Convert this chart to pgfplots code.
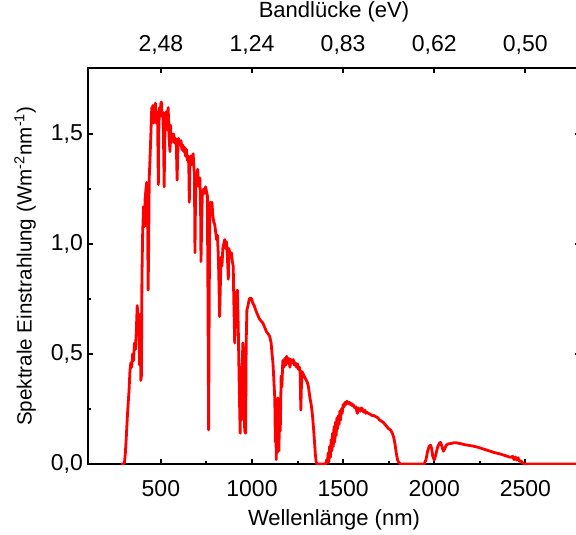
\documentclass[border=0pt]{standalone}
\usepackage{fontspec}
\setmainfont{Liberation Sans}
\usepackage{pgfplots}
\pgfplotsset{compat=1.18}
\begin{document}
\begin{tikzpicture}[font=\fontsize{11}{13}\selectfont]
\useasboundingbox (0,0) rectangle (288pt,267pt);
\pgfplotsset{
  common/.style={
    at={(44pt,35pt)}, anchor=south west, scale only axis,
    width=246pt, height=198pt,
    xmin=100, xmax=2800, ymin=0, ymax=1.8,
    tick align=inside, major tick length=2.5pt, minor tick length=1.5pt,
    axis line style={line width=1pt},
    every tick/.style={black, line width=1pt},
    every tick label/.append style={font=\fontsize{11.5}{13}\selectfont},
    /pgf/number format/assume math mode=true,
  }
}
\begin{axis}[common,
  xtick={500,1000,1500,2000,2500},
  xticklabels={500,1000,1500,2000,2500},
  minor x tick num=1,
  xtick pos=bottom,
  ytick={0,0.5,1,1.5},
  yticklabels={0{,}0,0{,}5,1{,}0,1{,}5},
  minor y tick num=1,
  ytick pos=both,
  xticklabel style={yshift=-4.5pt},
  yticklabel style={xshift=1pt},
  xlabel={Wellenlänge (nm)},
  ylabel={Spektrale Einstrahlung (Wm\textsuperscript{-2}nm\textsuperscript{-1})},
  xlabel style={at={(axis description cs:0.5,0)}, anchor=center, yshift=-28pt},
  ylabel style={at={(axis description cs:-0.128,0.5)}, anchor=center, font=\fontsize{10.3}{12}\selectfont},
]
\addplot[color=red, line width=1.4pt, line join=round] coordinates {
(280,0) (295,0) (300,0.005) (305,0.05) (310,0.12) (315,0.2) (320,0.27) (325,0.33)
(330,0.42) (335,0.46) (340,0.44) (345,0.50) (350,0.47) (355,0.55) (360,0.52)
(365,0.60) (370,0.72) (375,0.66) (380,0.62) (383,0.45) (386,0.68) (390,0.38)
(393,0.40) (396,0.85) (400,1.05) (405,1.17) (410,1.08) (413,1.20) (418,1.25)
(422,1.28) (426,1.22) (430,0.79) (433,1.0) (436,1.30) (440,1.38) (445,1.50)
(450,1.62) (453,1.58) (456,1.63) (460,1.55) (463,1.62) (466,1.58) (470,1.64)
(474,1.55) (478,1.60) (482,1.56) (486,1.27) (488,1.50) (492,1.62) (496,1.58)
(500,1.64) (503,1.645) (506,1.58) (510,1.60) (514,1.50) (518,1.26) (520,1.40)
(523,1.55) (527,1.60) (531,1.52) (535,1.58) (540,1.62) (545,1.48) (550,1.42)
(553,1.54) (557,1.46) (560,1.50) (565,1.47) (570,1.50) (575,1.46) (580,1.48)
(585,1.44) (589,1.29) (592,1.40) (596,1.48) (600,1.46) (605,1.45) (610,1.47)
(615,1.43) (620,1.45) (625,1.42) (630,1.44) (635,1.40) (640,1.43) (645,1.38)
(650,1.40) (653,1.36) (656,1.19) (659,1.38) (664,1.40) (668,1.36) (672,1.38)
(677,1.41) (681,1.35) (684,1.32) (687,0.96) (690,1.20) (694,1.32) (698,1.30)
(702,1.34) (706,1.28) (710,1.26) (714,1.30) (718,1.15) (720,0.92) (723,1.05)
(727,1.22) (731,1.24) (735,1.25) (740,1.23) (745,1.26) (750,1.24) (755,1.22)
(758,0.8) (762,0.155) (765,0.7) (768,1.15) (772,1.19) (776,1.18) (780,1.19)
(785,1.13) (790,1.10) (795,1.09) (800,1.06) (805,1.02) (810,1.04) (815,0.95)
(818,0.85) (822,0.67) (826,0.80) (830,0.94) (835,0.90) (840,0.98) (845,1.00)
(850,1.02) (855,0.98) (860,1.01) (865,0.94) (870,0.84) (873,0.98) (878,0.96)
(882,0.94) (887,0.96) (892,0.92) (897,0.90) (900,0.75) (905,0.55) (910,0.70)
(915,0.78) (920,0.79) (925,0.60) (930,0.35) (935,0.14) (938,0.30) (942,0.20)
(946,0.45) (950,0.55) (955,0.35) (960,0.15) (965,0.14) (968,0.55) (972,0.70)
(978,0.72) (985,0.75) (992,0.755) (998,0.75) (1005,0.73) (1012,0.72) (1020,0.70)
(1030,0.68) (1040,0.66) (1050,0.65) (1060,0.64) (1070,0.62) (1080,0.60)
(1090,0.59) (1097,0.58) (1105,0.55) (1110,0.50) (1115,0.46) (1120,0.38)
(1125,0.30) (1128,0.10) (1131,0.25) (1133,0.02) (1136,0.20) (1139,0.05)
(1142,0.30) (1145,0.18) (1148,0.06) (1151,0.28) (1155,0.15) (1160,0.40)
(1164,0.35) (1169,0.47) (1175,0.44) (1180,0.48) (1186,0.45) (1190,0.49)
(1196,0.46) (1202,0.48) (1208,0.44) (1214,0.475) (1220,0.46) (1226,0.475)
(1232,0.45) (1238,0.46) (1244,0.44) (1250,0.455) (1255,0.43) (1260,0.44)
(1264,0.42) (1268,0.245) (1271,0.35) (1275,0.42) (1280,0.41) (1286,0.40)
(1292,0.39) (1298,0.38) (1304,0.37) (1310,0.35) (1318,0.30) (1325,0.27)
(1332,0.22) (1338,0.16) (1343,0.10) (1348,0.04) (1352,0.01) (1356,0)
(1405,0) (1410,0.02) (1414,0.005) (1418,0.05) (1422,0.01) (1426,0.08)
(1430,0.03) (1434,0.11) (1438,0.06) (1442,0.14) (1446,0.08) (1450,0.17)
(1454,0.10) (1458,0.19) (1462,0.13) (1466,0.21) (1470,0.16) (1474,0.22)
(1478,0.18) (1482,0.24) (1486,0.20) (1490,0.25) (1495,0.23) (1500,0.27)
(1505,0.26) (1510,0.28) (1515,0.27) (1520,0.285) (1525,0.28) (1530,0.275)
(1535,0.28) (1540,0.27) (1545,0.275) (1550,0.265) (1555,0.27) (1560,0.26)
(1565,0.255) (1570,0.26) (1575,0.24) (1578,0.23) (1582,0.255) (1588,0.25)
(1595,0.24) (1600,0.255) (1605,0.25) (1610,0.24) (1615,0.235) (1620,0.245)
(1625,0.23) (1630,0.235) (1640,0.23) (1650,0.225) (1660,0.22) (1670,0.22)
(1680,0.215) (1690,0.21) (1700,0.20) (1710,0.195) (1720,0.19) (1730,0.18)
(1740,0.17) (1750,0.16) (1760,0.155) (1770,0.14) (1778,0.12) (1785,0.09)
(1790,0.06) (1795,0.035) (1800,0.015) (1808,0.005) (1815,0)
(1945,0) (1955,0.02) (1963,0.056) (1972,0.080) (1980,0.086) (1986,0.07)
(1992,0.035) (2000,0.018) (2008,0.04) (2018,0.075) (2028,0.095) (2035,0.098)
(2042,0.08) (2050,0.058) (2058,0.07) (2066,0.085) (2075,0.091) (2090,0.093)
(2105,0.096) (2120,0.097) (2135,0.094) (2150,0.092) (2165,0.088) (2180,0.086)
(2195,0.084) (2210,0.082) (2225,0.079) (2240,0.076) (2255,0.072) (2270,0.068)
(2285,0.064) (2300,0.060) (2315,0.056) (2330,0.052) (2345,0.049) (2360,0.046)
(2375,0.042) (2390,0.038) (2405,0.034) (2420,0.030) (2430,0.035) (2438,0.02)
(2445,0.032) (2452,0.018) (2460,0.028) (2468,0.012) (2475,0.015) (2485,0.005)
(2495,0) (2800,0)
};
\end{axis}
\begin{axis}[common,
  axis x line*=top,
  axis y line=none,
  xtick={500,1000,1500,2000,2500},
  xticklabels={{2,48},{1,24},{0,83},{0,62},{0,50}},
  xticklabel style={yshift=3pt},
  xlabel={Bandlücke (eV)},
  xlabel style={at={(axis description cs:0.5,1)}, anchor=center, yshift=28pt},
]
\end{axis}
\end{tikzpicture}
\end{document}
